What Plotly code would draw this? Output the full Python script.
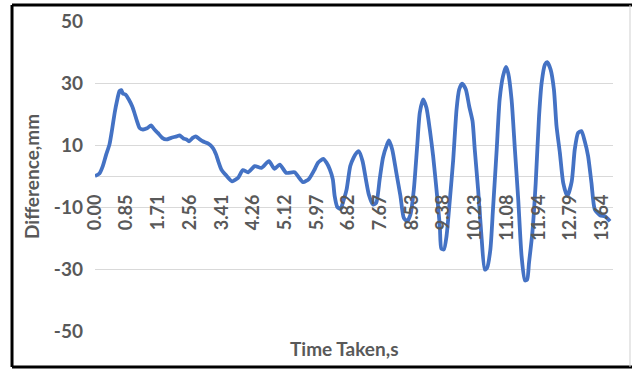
import plotly.graph_objects as go

# Time (s) and difference (mm)
time_s = [0.00, 0.12, 0.21, 0.30, 0.39, 0.46, 0.53, 0.59, 0.66, 0.71, 0.75, 0.82, 0.91, 1.00,
          1.06, 1.13, 1.20, 1.29, 1.40, 1.51, 1.60, 1.69, 1.81, 1.92, 2.05, 2.20, 2.28, 2.38,
          2.46, 2.53, 2.63, 2.71, 2.80, 2.90, 3.04, 3.17, 3.26, 3.33, 3.40, 3.53, 3.69, 3.85,
          3.98, 4.12, 4.30, 4.48, 4.68, 4.83, 4.97, 5.15, 5.37, 5.60, 5.76, 5.91, 6.00, 6.14,
          6.23, 6.32, 6.40, 6.45, 6.52, 6.61, 6.67, 6.77, 6.87, 6.96, 7.04, 7.10, 7.20, 7.29,
          7.37, 7.48, 7.57, 7.66, 7.75, 7.86, 7.91, 8.00, 8.11, 8.22, 8.31, 8.40, 8.49, 8.58,
          8.67, 8.74, 8.83, 8.92, 9.01, 9.10, 9.19, 9.28, 9.32, 9.39, 9.46, 9.55, 9.64, 9.73,
          9.80, 9.88, 9.98, 10.07, 10.16, 10.22, 10.31, 10.40, 10.49, 10.55, 10.64, 10.71,
          10.81, 10.89, 10.98, 11.06, 11.12, 11.21, 11.30, 11.39, 11.48, 11.57, 11.63, 11.68,
          11.77, 11.86, 11.95, 12.02, 12.11, 12.17, 12.26, 12.35, 12.42, 12.51, 12.60, 12.71,
          12.83, 12.91, 13.00, 13.09, 13.18, 13.27, 13.36, 13.45, 13.59, 13.72, 13.86]

difference_mm = [0.0, 0.8, 3.2, 6.9, 10.2, 15.0, 20.4, 24.1, 27.4, 27.7, 26.6, 26.3, 24.7, 22.5,
                 20.4, 17.7, 15.5, 15.0, 15.4, 16.3, 15.0, 13.9, 12.3, 11.8, 12.3, 12.8, 13.1, 12.1,
                 11.8, 11.2, 12.3, 12.8, 12.0, 11.2, 10.5, 9.1, 6.9, 4.3, 2.1, 0.2, -1.7, -0.6,
                 1.9, 1.2, 3.2, 2.6, 4.8, 2.3, 3.7, 1.0, 1.2, -2.0, -0.9, 2.1, 4.3, 5.5,
                 4.3, 2.1, -1.1, -6.5, -10.0, -10.6, -8.6, -4.4, 3.2, 5.9, 7.5, 8.0, 4.8, -1.1,
                 -6.0, -9.2, -8.6, -1.1, 5.9, 10.2, 11.5, 8.5, 1.0, -6.5, -13.5, -14.6, -12.4, -4.4,
                 9.6, 20.4, 24.7, 22.0, 15.0, 6.4, -4.4, -16.2, -23.4, -23.7, -19.4, -7.6, 5.3, 21.5,
                 27.9, 29.8, 27.9, 22.5, 17.7, 8.5, -4.4, -19.4, -30.2, -29.7, -23.7, -10.8,
                 8.5, 24.7, 32.2, 35.2, 33.2, 24.7, 8.5, -7.6, -25.9, -33.7, -33.4, -28.0,
                 -18.3, -2.2, 19.3, 30.1, 36.0, 36.7, 34.4, 27.9, 16.1, 7.5, -2.2, -6.5,
                 -1.7, 8.5, 13.9, 14.5, 11.2, 6.4, -2.2, -10.8, -12.7, -13.0, -14.6]

x_tick_labels = ["0.00", "0.85", "1.71", "2.56", "3.41", "4.26", "5.12", "5.97", "6.82",
                 "7.67", "8.53", "9.38", "10.23", "11.08", "11.94", "12.79", "13.64"]
y_tick_values = [-50, -30, -10, 10, 30, 50]
y_tick_labels = ["-50", "-30", "-10", "10", "30", "50"]

GREY = "#595959"
FONT = "Lato"

fig = go.Figure()
fig.add_trace(go.Scatter(
    x=time_s, y=difference_mm, mode="lines",
    line=dict(color="#4472C4", width=3.8, shape="spline", smoothing=0.6),
    hoverinfo="skip", showlegend=False,
))

fig.update_layout(
    width=632, height=369,
    margin=dict(l=95, r=19, t=21, b=38, autoexpand=False),
    paper_bgcolor="white", plot_bgcolor="white",
    font=dict(family=FONT, color=GREY),
    xaxis=dict(
        range=[0, 13.94],
        tickvals=[float(v) for v in x_tick_labels],
        ticktext=x_tick_labels,
        tickangle=-90,
        tickfont=dict(family=FONT, size=18, color=GREY, weight="bold"),
        showgrid=False, zeroline=False, showline=False,
        ticks="", anchor="free", position=0.5,
        ticklabelstandoff=14, automargin=False,
    ),
    yaxis=dict(
        range=[-50, 50],
        tickvals=y_tick_values,
        ticktext=y_tick_labels,
        tickfont=dict(family=FONT, size=19, color=GREY, weight="bold"),
        showgrid=True, gridcolor="#D9D9D9", gridwidth=1,
        zeroline=True, zerolinecolor="#D9D9D9", zerolinewidth=1,
        showline=False, ticks="", ticklabelstandoff=11, automargin=False,
    ),
    annotations=[
        dict(text="Difference,mm", xref="paper", yref="paper",
             x=-0.1236, y=0.5, xanchor="center", yanchor="middle",
             textangle=-90, showarrow=False,
             font=dict(family=FONT, size=19, color=GREY, weight="bold")),
        dict(text="Time Taken,s", xref="paper", yref="paper",
             x=0.4807, y=-0.058, xanchor="center", yanchor="middle",
             showarrow=False,
             font=dict(family=FONT, size=19, color=GREY, weight="bold")),
    ],
    shapes=[
        dict(type="line", xref="paper", yref="paper", x0=-0.1602, x1=1.04, y0=1.0516, y1=1.0516,
             line=dict(color="black", width=3)),
        dict(type="line", xref="paper", yref="paper", x0=-0.1602, x1=1.04, y0=-0.1161, y1=-0.1161,
             line=dict(color="black", width=3)),
        dict(type="line", xref="paper", yref="paper", x0=-0.1602, x1=-0.1602, y0=-0.1161, y1=1.0516,
             line=dict(color="black", width=3)),
        dict(type="line", xref="paper", yref="paper", x0=1.0328, x1=1.0328, y0=-0.1161, y1=1.0516,
             line=dict(color="#D0D0D0", width=1)),
    ],
)

fig.write_html("out.html", config={"displayModeBar": False},
               post_script="document.body.style.margin='0';document.body.style.overflow='hidden';")
